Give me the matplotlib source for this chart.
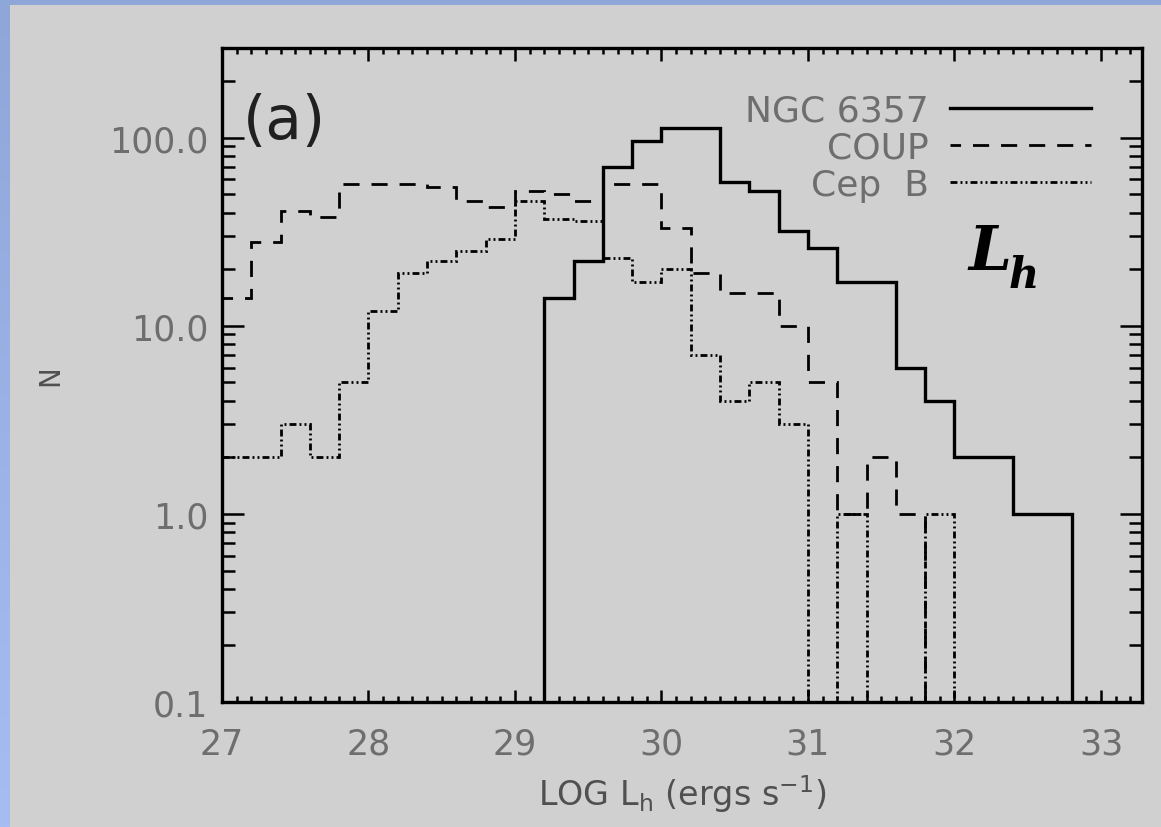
import numpy as np
import matplotlib.pyplot as plt
from matplotlib.patches import Rectangle
from matplotlib.ticker import MultipleLocator, LogLocator, NullFormatter

# histogram bin edges in log L_h (ergs/s), 0.2 dex bins
bin_edges = [27.0, 27.2, 27.4, 27.6, 27.8, 28.0, 28.2, 28.4, 28.6, 28.8,
             29.0, 29.2, 29.4, 29.6, 29.8, 30.0, 30.2, 30.4, 30.6, 30.8,
             31.0, 31.2, 31.4, 31.6, 31.8, 32.0, 32.2, 32.4, 32.6, 32.8, 33.0]

# counts per bin
ngc6357 = [0, 0, 0, 0, 0, 0, 0, 0, 0, 0,
           0, 14, 22, 70, 96, 112, 112, 58, 52, 32,
           26, 17, 17, 6, 4, 2, 2, 1, 1, 0]
coup = [14, 28, 41, 38, 57, 57, 57, 55, 46, 43,
        52, 50, 46, 57, 57, 33, 19, 15, 15, 10,
        5, 1, 2, 1, 0, 0, 0, 0, 0, 0]
cepb = [2, 2, 3, 2, 5, 12, 19, 22, 25, 29,
        46, 37, 36, 23, 17, 20, 7, 4, 5, 3,
        0, 1, 0, 0, 1, 0, 0, 0, 0, 0]

series_labels = ['NGC 6357', 'COUP', 'Cep  B']
x_ticks = [27, 28, 29, 30, 31, 32, 33]
y_ticks = [0.1, 1.0, 10.0, 100.0]
y_tick_labels = ['0.1', '1.0', '10.0', '100.0']

plt.rcParams['font.family'] = ['DejaVu Sans']
txt_gray = '#6e6e6e'

W, H = 1161, 828
fig = plt.figure(figsize=(W / 100, H / 100), dpi=100)

# blue frame + grey panel behind the plot
bg = fig.add_axes([0, 0, 1, 1], zorder=-10)
grad = np.linspace(0, 1, 256).reshape(-1, 1)
bg.imshow(grad, aspect='auto', extent=[0, 1, 0, 1],
          cmap=plt.matplotlib.colors.LinearSegmentedColormap.from_list(
              'frame', ['#a6bdf2', '#8ea6d8']), origin='lower')
bg.add_patch(Rectangle((10 / W, 0), 1 - 10 / W, 1 - 6 / H,
                       facecolor='#d0d0d0', edgecolor='none'))
bg.set_xlim(0, 1)
bg.set_ylim(0, 1)
bg.axis('off')

ax = fig.add_axes([222 / W, 1 - 703 / H, 920 / W, 654 / H])
ax.set_facecolor('none')
ax.set_yscale('log')

# zero-count bins are pushed below the axis floor
floor = 1e-3
styles = [
    dict(linewidth=2.4, linestyle='-'),
    dict(linewidth=2.0, linestyle=(2, (5.8, 4.3))),
    dict(linewidth=2.0, linestyle=(0, (2.5, 1.1, 0.7, 1.1, 0.7, 1.1))),
]
for vals, lab, st in zip([ngc6357, coup, cepb], series_labels, styles):
    v = np.array(vals, dtype=float)
    v = np.where(v > 0, v, floor)
    ax.stairs(v, bin_edges, baseline=None, fill=False, color='black',
              label=lab, **st)

ax.set_xlim(27, 33.28)
ax.set_ylim(0.1, 300)

ax.set_xticks(x_ticks)
ax.set_xticklabels([str(t) for t in x_ticks])
ax.xaxis.set_minor_locator(MultipleLocator(0.1))
ax.set_yticks(y_ticks)
ax.set_yticklabels(y_tick_labels)
ax.yaxis.set_minor_locator(LogLocator(base=10, subs=np.arange(2, 10)))
ax.yaxis.set_minor_formatter(NullFormatter())

for s in ax.spines.values():
    s.set_linewidth(2.4)

ax.tick_params(which='both', direction='in', top=True, right=True,
               width=1.8, labelcolor=txt_gray, labelsize=25)
ax.tick_params(axis='x', which='major', length=9, pad=18)
ax.tick_params(axis='x', which='minor', length=4.5)
ax.tick_params(axis='y', which='major', length=16, pad=10)
ax.tick_params(axis='y', which='minor', length=9.5)

ax.set_xlabel(r'LOG L$_{\rm h}$ (ergs s$^{-1}$)', fontsize=24,
              color='#505050', labelpad=8)
ax.set_ylabel('N', fontsize=20, color='#505050')
ax.yaxis.set_label_coords(-0.172, 0.5)

ax.text(0.023, 0.888, '(a)', transform=ax.transAxes, fontsize=43,
        ha='left', va='center', color='#202020')

ax.text(0.811, 0.662, 'L', transform=ax.transAxes, fontsize=44,
        family='DejaVu Serif', style='italic', weight='bold',
        ha='left', va='baseline')
ax.text(0.855, 0.635, 'h', transform=ax.transAxes, fontsize=30,
        family='DejaVu Serif', style='italic', weight='bold',
        ha='left', va='baseline')

leg = ax.legend(loc='upper right', bbox_to_anchor=(0.9446, 0.93),
                markerfirst=False, frameon=False, fontsize=26,
                handlelength=3.9, handletextpad=0.6, labelspacing=0.08,
                borderpad=0, borderaxespad=0)
for t in leg.get_texts():
    t.set_color(txt_gray)

fig.savefig('out.png', dpi=100, facecolor=fig.get_facecolor())
